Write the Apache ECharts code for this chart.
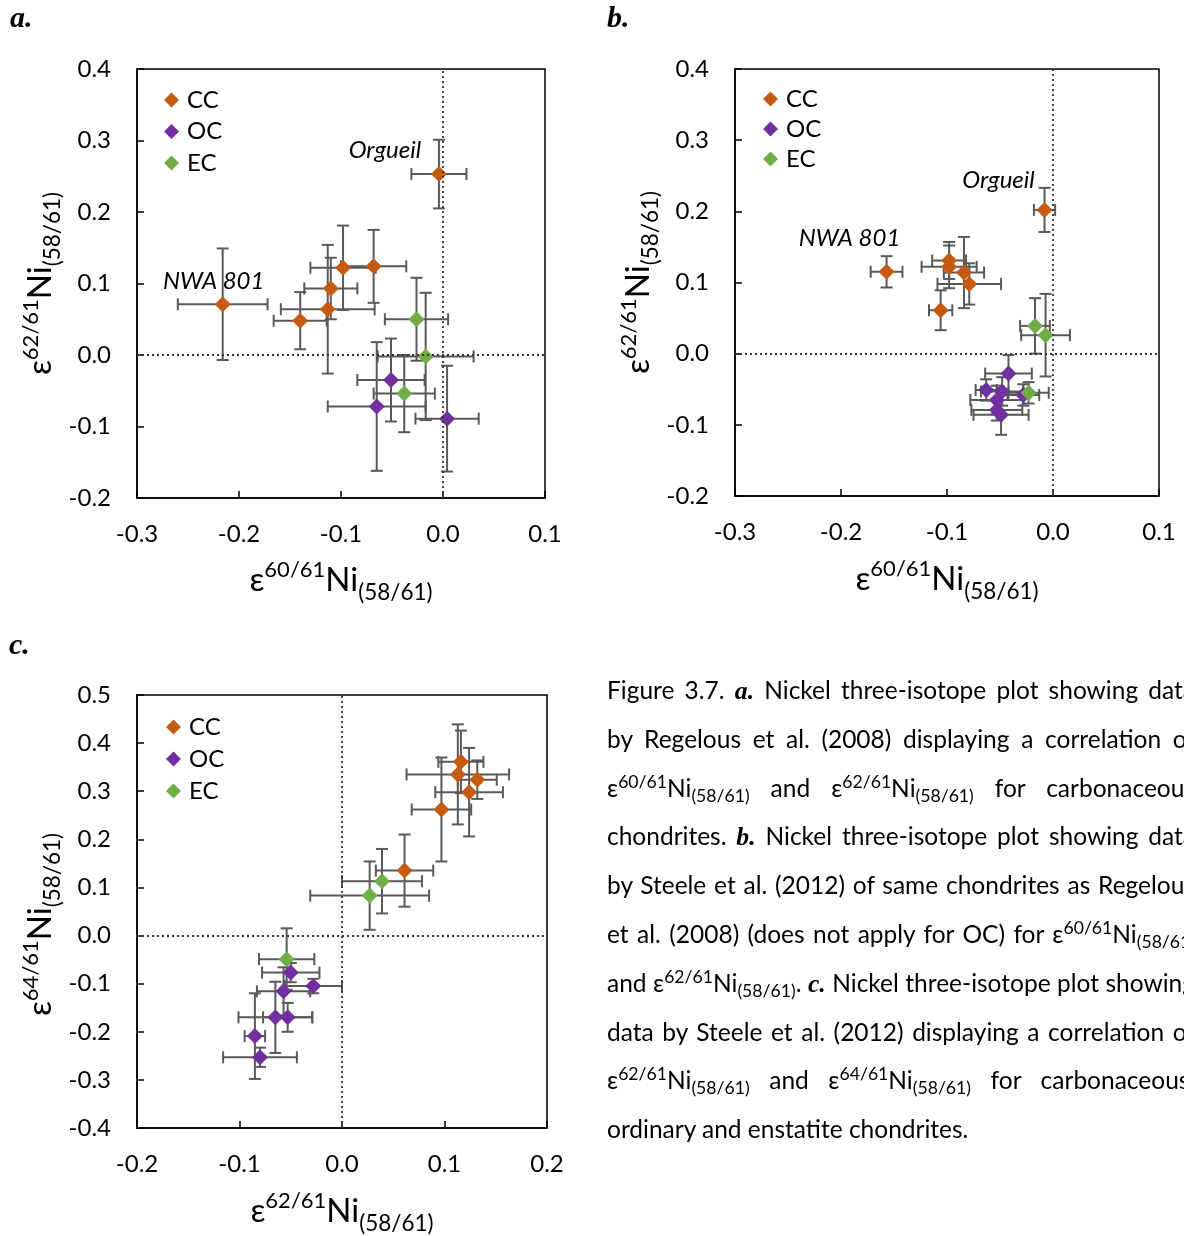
<!DOCTYPE html>
<html><head><meta charset="utf-8">
<script src="https://cdn.jsdelivr.net/npm/echarts/dist/echarts.min.js"></script>
<style>
html,body{margin:0;padding:0;width:1184px;height:1236px;overflow:hidden;background:#fff;}
#chart{position:absolute;left:0;top:0;width:1184px;height:1236px;}
#cap{position:absolute;left:607px;top:666px;width:700px;font-family:Lato,"Noto Sans",sans-serif;font-size:24.5px;line-height:48.8px;color:#000;}
#cap div{white-space:nowrap;height:48.8px;}
#cap span.ln{display:inline-block;white-space:nowrap;}
#cap sup{font-size:0.72em;vertical-align:0.5em;line-height:0}
#cap sub{font-size:0.72em;vertical-align:-0.3em;line-height:0}
#cap b{font-family:"Liberation Serif",serif;font-style:italic;font-weight:bold;font-size:1.05em}
</style>
</head><body>
<div id="chart"></div>
<div id="cap">
<div><span class="ln">Figure 3.7. <b>a.</b> Nickel three-isotope plot showing data</span></div>
<div><span class="ln">by Regelous et al. (2008) displaying a correlation of</span></div>
<div><span class="ln">ε<sup>60/61</sup>Ni<sub>(58/61)</sub> and ε<sup>62/61</sup>Ni<sub>(58/61)</sub> for carbonaceous</span></div>
<div><span class="ln">chondrites. <b>b.</b> Nickel three-isotope plot showing data</span></div>
<div><span class="ln">by Steele et al. (2012) of same chondrites as Regelous</span></div>
<div><span class="ln">et al. (2008) (does not apply for OC) for ε<sup>60/61</sup>Ni<sub>(58/61)</sub></span></div>
<div><span class="ln">and ε<sup>62/61</sup>Ni<sub>(58/61)</sub>. <b>c.</b> Nickel three-isotope plot showing</span></div>
<div><span class="ln">data by Steele et al. (2012) displaying a correlation of</span></div>
<div><span class="ln">ε<sup>62/61</sup>Ni<sub>(58/61)</sub> and ε<sup>64/61</sup>Ni<sub>(58/61)</sub> for carbonaceous,</span></div>
<div><span class="ln last">ordinary and enstatite chondrites.</span></div>
</div>
<script>
// ---- data: [x, y, xErr, yErr] ----
// Panel a: Regelous et al. (2008)  x = e60/61Ni, y = e62/61Ni
const a_CC = [
  [-0.004, 0.253, 0.027, 0.048],
  [-0.216, 0.071, 0.044, 0.078],
  [-0.140, 0.048, 0.026, 0.040],
  [-0.113, 0.064, 0.046, 0.090],
  [-0.110, 0.093, 0.026, 0.043],
  [-0.098, 0.122, 0.032, 0.059],
  [-0.068, 0.124, 0.032, 0.051]
];
const a_OC = [
  [-0.051, -0.035, 0.033, 0.058],
  [-0.065, -0.072, 0.048, 0.090],
  [0.004, -0.089, 0.031, 0.074]
];
const a_EC = [
  [-0.026, 0.050, 0.031, 0.058],
  [-0.017, -0.002, 0.047, 0.089],
  [-0.038, -0.054, 0.030, 0.054]
];
// Panel b: Steele et al. (2012)  x = e60/61Ni, y = e62/61Ni
const b_CC = [
  [-0.008, 0.202, 0.010, 0.031],
  [-0.157, 0.115, 0.015, 0.022],
  [-0.098, 0.131, 0.016, 0.026],
  [-0.098, 0.122, 0.026, 0.030],
  [-0.084, 0.114, 0.019, 0.050],
  [-0.079, 0.098, 0.030, 0.029],
  [-0.106, 0.061, 0.011, 0.028]
];
const b_OC = [
  [-0.042, -0.028, 0.022, 0.026],
  [-0.063, -0.051, 0.010, 0.015],
  [-0.048, -0.053, 0.020, 0.020],
  [-0.053, -0.065, 0.025, 0.020],
  [-0.053, -0.079, 0.024, 0.015],
  [-0.049, -0.086, 0.026, 0.028],
  [-0.028, -0.058, 0.015, 0.015]
];
const b_EC = [
  [-0.017, 0.039, 0.014, 0.039],
  [-0.007, 0.026, 0.023, 0.058],
  [-0.023, -0.055, 0.019, 0.015]
];
// Panel c: Steele et al. (2012)  x = e62/61Ni, y = e64/61Ni
const c_CC = [
  [0.116, 0.361, 0.022, 0.065],
  [0.113, 0.335, 0.050, 0.104],
  [0.132, 0.324, 0.019, 0.040],
  [0.124, 0.298, 0.033, 0.092],
  [0.097, 0.262, 0.029, 0.108],
  [0.061, 0.135, 0.028, 0.075]
];
const c_OC = [
  [-0.050, -0.077, 0.028, 0.020],
  [-0.028, -0.105, 0.028, 0.015],
  [-0.057, -0.116, 0.026, 0.050],
  [-0.065, -0.170, 0.036, 0.074],
  [-0.053, -0.170, 0.024, 0.030],
  [-0.085, -0.209, 0.010, 0.089],
  [-0.080, -0.253, 0.036, 0.020]
];
const c_EC = [
  [0.039, 0.113, 0.039, 0.067],
  [0.027, 0.083, 0.058, 0.071],
  [-0.054, -0.049, 0.027, 0.064]
];
const groups = ['CC', 'OC', 'EC'];
const panelLetters = ['a.', 'b.', 'c.'];
const xRanges = [[-0.3, 0.1], [-0.3, 0.1], [-0.2, 0.2]];
const yRanges = [[-0.2, 0.4], [-0.2, 0.4], [-0.4, 0.5]];
const xIso = ['60/61', '60/61', '62/61'];
const yIso = ['62/61', '62/61', '64/61'];
const noteNames = ['Orgueil', 'NWA 801']; // first two CC samples in panels a and b

// ---- styling ----
const COLORS = {CC: '#C55A11', OC: '#7030A0', EC: '#70AD47'};
const FONT = 'Lato, "Noto Sans", "DejaVu Sans", sans-serif';
const grids = [
  {left: 137, top: 69, width: 408, height: 429},
  {left: 735, top: 69, width: 424, height: 427},
  {left: 137, top: 695, width: 410, height: 439}
];
const legendPos = [
  {left: 159, top: 83, itemGap: 7.5},
  {left: 758, top: 82, itemGap: 6},
  {left: 161, top: 710, itemGap: 8}
];
const noteOffsets = [
  [[-54, -24], [-9, -23]],
  [[-46, -30], [-37, -34]],
  null
];
const xNameGap = [58, 59, 59];
const yNameGap = [68, 72, 68];
const yNamePad = [[0, 0, 0, 0], [0, 0, 0, 0], [0, 26, 0, 0]];
const letterPos = [[10, 4], [607, 4], [9, 631]];

const panels = [
  {CC: a_CC, OC: a_OC, EC: a_EC},
  {CC: b_CC, OC: b_OC, EC: b_EC},
  {CC: c_CC, OC: c_OC, EC: c_EC}
];

function fmt(v) { return Math.abs(v) < 1e-9 ? '0.0' : v.toFixed(1); }

const rich = {
  m: {fontSize: 33, fontFamily: FONT, color: '#000', lineHeight: 48, verticalAlign: 'middle'},
  sup: {fontSize: 22, fontFamily: FONT, color: '#000', lineHeight: 22, verticalAlign: 'top', padding: [3, 0, 0, 0]},
  sub: {fontSize: 22.5, fontFamily: FONT, color: '#000', lineHeight: 22, verticalAlign: 'bottom', padding: [0, 0, 0, 0]}
};
function axName(iso) { return '{m|ε}{sup|' + iso + '}{m|Ni}{sub|(58/61)}'; }

function errItem(params, api) {
  const x = api.value(0), y = api.value(1), ex = api.value(2), ey = api.value(3);
  const L = api.coord([x - ex, y]), R = api.coord([x + ex, y]);
  const T = api.coord([x, y + ey]), B = api.coord([x, y - ey]);
  const c = 6;
  const st = {stroke: '#595959', lineWidth: 2};
  const ln = (x1, y1, x2, y2) => ({type: 'line', shape: {x1, y1, x2, y2}, style: st});
  return {type: 'group', children: [
    ln(L[0], L[1], R[0], R[1]), ln(L[0], L[1] - c, L[0], L[1] + c), ln(R[0], R[1] - c, R[0], R[1] + c),
    ln(T[0], T[1], B[0], B[1]), ln(T[0] - c, T[1], T[0] + c, T[1]), ln(B[0] - c, B[1], B[0] + c, B[1])
  ]};
}

const xAxis = [], yAxis = [], series = [], legend = [], graphic = [];
panels.forEach((p, i) => {
  xAxis.push({
    type: 'value', gridIndex: i, min: xRanges[i][0], max: xRanges[i][1], interval: 0.1,
    axisLine: {onZero: false, lineStyle: {color: '#000', width: 1.5}},
    axisTick: {inside: true, length: 7, lineStyle: {color: '#000', width: 1.5}},
    axisLabel: {formatter: fmt, fontSize: 24, fontFamily: FONT, color: '#000', margin: 24},
    splitLine: {show: false},
    name: axName(xIso[i]), nameLocation: 'middle', nameGap: xNameGap[i],
    nameTextStyle: {rich: rich}
  });
  yAxis.push({
    type: 'value', gridIndex: i, min: yRanges[i][0], max: yRanges[i][1], interval: 0.1,
    axisLine: {onZero: false, lineStyle: {color: '#000', width: 1.5}},
    axisTick: {inside: true, length: 7, lineStyle: {color: '#000', width: 1.5}},
    axisLabel: {formatter: fmt, fontSize: 24, fontFamily: FONT, color: '#000', margin: 26},
    splitLine: {show: false},
    name: axName(yIso[i]), nameLocation: 'middle', nameGap: yNameGap[i],
    nameTextStyle: {rich: rich, padding: yNamePad[i]}
  });
  groups.forEach(k => {
    series.push({
      type: 'custom', name: k + ' error', xAxisIndex: i, yAxisIndex: i,
      renderItem: errItem, data: p[k], encode: {x: 0, y: 1}, z: 2, silent: true, animation: false
    });
  });
  groups.forEach((k, j) => {
    const s = {
      type: 'scatter', name: k, xAxisIndex: i, yAxisIndex: i,
      symbol: 'diamond', symbolSize: 16, z: 4, animation: false, silent: true,
      itemStyle: {color: COLORS[k], opacity: 1},
      data: p[k].map((d, idx) => {
        const o = {value: [d[0], d[1]]};
        if (k === 'CC' && noteOffsets[i] && idx < noteNames.length) {
          o.label = {show: true, formatter: noteNames[idx], position: 'inside', offset: noteOffsets[i][idx],
            fontSize: 24, fontStyle: 'italic', fontFamily: FONT, color: '#000'};
        }
        return o;
      })
    };
    if (j === 0) {
      s.markLine = {
        silent: true, symbol: ['none', 'none'], animation: false, label: {show: false},
        lineStyle: {type: [2, 3], color: '#333', width: 1.8},
        data: [{xAxis: 0}, {yAxis: 0}]
      };
    }
    series.push(s);
  });
  legend.push({
    left: legendPos[i].left, top: legendPos[i].top, orient: 'vertical', itemGap: legendPos[i].itemGap,
    icon: 'diamond', itemWidth: 15, itemHeight: 15, selectedMode: false,
    textStyle: {fontSize: 24, fontFamily: FONT, color: '#000', lineHeight: 24, padding: [0, 0, 0, 3]},
    data: groups
  });
  graphic.push({
    type: 'text', left: letterPos[i][0], top: letterPos[i][1],
    style: {text: panelLetters[i], font: 'italic bold 30px "Liberation Serif", serif', fill: '#000'}
  });
});

const grid = grids.map(g => Object.assign({show: true, borderColor: '#000', borderWidth: 1.5, backgroundColor: 'transparent'}, g));

const chart = echarts.init(document.getElementById('chart'), null, {renderer: 'canvas'});
chart.setOption({
  animation: false,
  backgroundColor: '#fff',
  grid, xAxis, yAxis, series, legend, graphic
});

// justify caption lines to the same width (last line left-aligned)
function justifyCaption() {
  const W = 588;
  document.querySelectorAll('#cap span.ln').forEach(sp => {
    sp.style.wordSpacing = '0px';
    if (sp.classList.contains('last')) return;
    const w = sp.getBoundingClientRect().width;
    const spaces = (sp.textContent.match(/ /g) || []).length;
    if (spaces > 0) sp.style.wordSpacing = ((W - w) / spaces) + 'px';
  });
}
justifyCaption();
if (document.fonts && document.fonts.ready) document.fonts.ready.then(justifyCaption);
</script>
</body></html>
